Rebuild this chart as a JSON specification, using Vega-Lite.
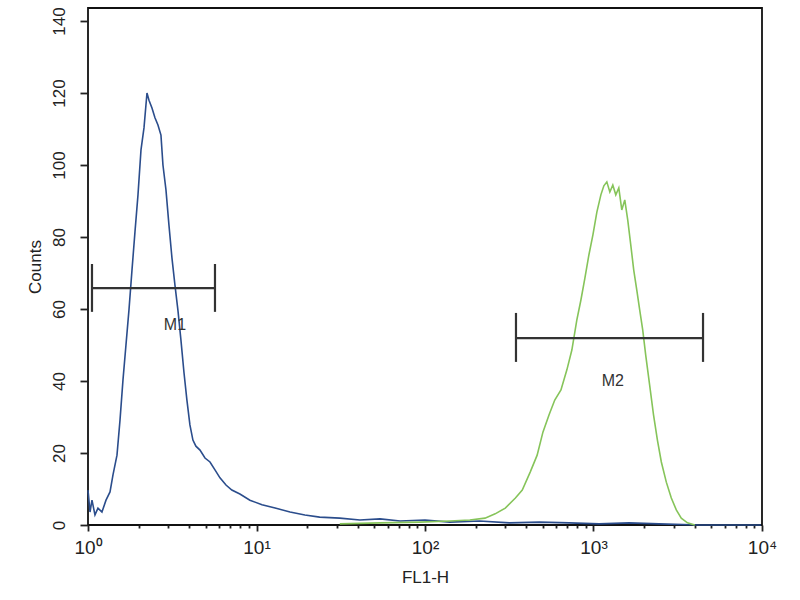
{
  "$schema": "https://vega.github.io/schema/vega-lite/v6.json",
  "width": 674,
  "height": 517,
  "autosize": {"type": "none"},
  "padding": {"left": 88, "top": 8, "right": 38, "bottom": 75},
  "background": "white",
  "config": {
    "view": {"stroke": "#111", "strokeWidth": 1.8},
    "font": "Liberation Sans"
  },
  "datasets": {
    "hist": [
      {"s": "blue", "x": 1.0, "c": 9.7},
      {"s": "blue", "x": 1.028, "c": 3.6},
      {"s": "blue", "x": 1.056, "c": 6.9},
      {"s": "blue", "x": 1.10, "c": 2.8},
      {"s": "blue", "x": 1.146, "c": 4.7},
      {"s": "blue", "x": 1.21, "c": 3.6},
      {"s": "blue", "x": 1.279, "c": 6.9},
      {"s": "blue", "x": 1.351, "c": 9.2},
      {"s": "blue", "x": 1.407, "c": 13.9},
      {"s": "blue", "x": 1.486, "c": 19.4},
      {"s": "blue", "x": 1.549, "c": 29.2},
      {"s": "blue", "x": 1.613, "c": 40.3},
      {"s": "blue", "x": 1.68, "c": 50},
      {"s": "blue", "x": 1.75, "c": 59.7},
      {"s": "blue", "x": 1.824, "c": 70.8},
      {"s": "blue", "x": 1.9, "c": 81.4},
      {"s": "blue", "x": 1.98, "c": 91.7},
      {"s": "blue", "x": 2.063, "c": 104.2},
      {"s": "blue", "x": 2.149, "c": 110.3},
      {"s": "blue", "x": 2.239, "c": 120},
      {"s": "blue", "x": 2.301, "c": 118},
      {"s": "blue", "x": 2.397, "c": 115.8},
      {"s": "blue", "x": 2.497, "c": 113.1},
      {"s": "blue", "x": 2.601, "c": 111.1},
      {"s": "blue", "x": 2.71, "c": 108.3},
      {"s": "blue", "x": 2.785, "c": 100},
      {"s": "blue", "x": 2.902, "c": 93.1},
      {"s": "blue", "x": 3.023, "c": 83.3},
      {"s": "blue", "x": 3.149, "c": 74.2},
      {"s": "blue", "x": 3.28, "c": 66.7},
      {"s": "blue", "x": 3.417, "c": 59.7},
      {"s": "blue", "x": 3.56, "c": 51.4},
      {"s": "blue", "x": 3.709, "c": 42.5},
      {"s": "blue", "x": 3.864, "c": 34.7},
      {"s": "blue", "x": 4.026, "c": 27.8},
      {"s": "blue", "x": 4.194, "c": 23.6},
      {"s": "blue", "x": 4.369, "c": 21.9},
      {"s": "blue", "x": 4.62, "c": 20.8},
      {"s": "blue", "x": 4.946, "c": 18.6},
      {"s": "blue", "x": 5.296, "c": 17.5},
      {"s": "blue", "x": 5.669, "c": 15.3},
      {"s": "blue", "x": 6.07, "c": 13.1},
      {"s": "blue", "x": 6.59, "c": 11.1},
      {"s": "blue", "x": 7.14, "c": 9.7},
      {"s": "blue", "x": 7.97, "c": 8.6},
      {"s": "blue", "x": 9.14, "c": 6.9},
      {"s": "blue", "x": 10.78, "c": 5.6},
      {"s": "blue", "x": 12.9, "c": 4.7},
      {"s": "blue", "x": 15.81, "c": 3.6},
      {"s": "blue", "x": 19.37, "c": 2.8},
      {"s": "blue", "x": 23.7, "c": 2.2},
      {"s": "blue", "x": 31.2, "c": 1.9},
      {"s": "blue", "x": 41.1, "c": 1.4},
      {"s": "blue", "x": 54.1, "c": 1.7},
      {"s": "blue", "x": 71.2, "c": 1.1},
      {"s": "blue", "x": 100, "c": 1.4},
      {"s": "blue", "x": 140.3, "c": 0.8},
      {"s": "blue", "x": 211, "c": 1.1},
      {"s": "blue", "x": 317, "c": 0.6},
      {"s": "blue", "x": 477, "c": 0.8},
      {"s": "blue", "x": 718, "c": 0.6},
      {"s": "blue", "x": 1080, "c": 0.3},
      {"s": "blue", "x": 1626, "c": 0.6},
      {"s": "blue", "x": 2447, "c": 0.3},
      {"s": "blue", "x": 4230, "c": 0},
      {"s": "blue", "x": 9850, "c": 0},
      {"s": "green", "x": 31.2, "c": 0.3},
      {"s": "green", "x": 54.1, "c": 0.6},
      {"s": "green", "x": 93.2, "c": 0.8},
      {"s": "green", "x": 140.3, "c": 1.1},
      {"s": "green", "x": 184.6, "c": 1.4},
      {"s": "green", "x": 227, "c": 1.9},
      {"s": "green", "x": 260.9, "c": 3.1},
      {"s": "green", "x": 299.6, "c": 4.7},
      {"s": "green", "x": 344, "c": 7.5},
      {"s": "green", "x": 377.8, "c": 9.7},
      {"s": "green", "x": 421, "c": 14.7},
      {"s": "green", "x": 463, "c": 19.4},
      {"s": "green", "x": 501, "c": 25.8},
      {"s": "green", "x": 545, "c": 30.6},
      {"s": "green", "x": 589, "c": 34.7},
      {"s": "green", "x": 641, "c": 37.5},
      {"s": "green", "x": 695, "c": 43.1},
      {"s": "green", "x": 744, "c": 48.6},
      {"s": "green", "x": 796, "c": 56.9},
      {"s": "green", "x": 842, "c": 62.5},
      {"s": "green", "x": 889, "c": 68.6},
      {"s": "green", "x": 939, "c": 75},
      {"s": "green", "x": 992, "c": 80.6},
      {"s": "green", "x": 1047, "c": 86.9},
      {"s": "green", "x": 1106, "c": 91.7},
      {"s": "green", "x": 1152, "c": 94.2},
      {"s": "green", "x": 1200, "c": 95.3},
      {"s": "green", "x": 1250, "c": 92.5},
      {"s": "green", "x": 1302, "c": 94.4},
      {"s": "green", "x": 1356, "c": 91.7},
      {"s": "green", "x": 1413, "c": 93.6},
      {"s": "green", "x": 1472, "c": 87.5},
      {"s": "green", "x": 1533, "c": 90.3},
      {"s": "green", "x": 1597, "c": 84.7},
      {"s": "green", "x": 1664, "c": 77.8},
      {"s": "green", "x": 1733, "c": 70.8},
      {"s": "green", "x": 1806, "c": 65.3},
      {"s": "green", "x": 1881, "c": 59.7},
      {"s": "green", "x": 1959, "c": 54.2},
      {"s": "green", "x": 2041, "c": 47.2},
      {"s": "green", "x": 2153, "c": 38.9},
      {"s": "green", "x": 2271, "c": 30.6},
      {"s": "green", "x": 2395, "c": 23.6},
      {"s": "green", "x": 2527, "c": 17.5},
      {"s": "green", "x": 2705, "c": 11.9},
      {"s": "green", "x": 2896, "c": 7.5},
      {"s": "green", "x": 3100, "c": 4.2},
      {"s": "green", "x": 3318, "c": 1.9},
      {"s": "green", "x": 3610, "c": 0.6},
      {"s": "green", "x": 3993, "c": 0}
    ],
    "bars": [
      {"m": "M1", "x1": 1.056, "x2": 5.67, "y": 65.8, "ylo": 59.2, "yhi": 72.5, "lx": 3.28, "ly": 55.5},
      {"m": "M2", "x1": 346.7, "x2": 4467, "y": 51.9, "ylo": 45.3, "yhi": 58.9, "lx": 1302, "ly": 40}
    ]
  },
  "layer": [
    {
      "data": {"name": "hist"},
      "mark": {"type": "line", "strokeWidth": 1.6, "interpolate": "linear"},
      "encoding": {
        "x": {
          "field": "x", "type": "quantitative",
          "scale": {"type": "log", "domain": [1, 10000], "nice": false},
          "axis": {
            "title": "FL1-H",
            "titleFont": "Liberation Sans",
            "titleFontSize": 17,
            "titleFontWeight": "normal",
            "titleColor": "#222",
            "titlePadding": 12,
            "values": [1,2,3,4,5,6,7,8,9,10,20,30,40,50,60,70,80,90,100,200,300,400,500,600,700,800,900,1000,2000,3000,4000,5000,6000,7000,8000,9000,10000],
            "labelExpr": "datum.value == 1 ? '10⁰' : datum.value == 10 ? '10¹' : datum.value == 100 ? '10²' : datum.value == 1000 ? '10³' : datum.value == 10000 ? '10⁴' : ''",
            "labelFontSize": 19,
            "labelColor": "#222",
            "labelPadding": 7,
            "labelFlush": false,
            "labelOverlap": false,
            "domain": false,
            "grid": false,
            "tickColor": "#222",
            "tickWidth": 1.8,
            "tickSize": {"condition": {"test": "indexof([1,10,100,1000,10000], datum.value) >= 0", "value": 6}, "value": 3}
          }
        },
        "y": {
          "field": "c", "type": "quantitative",
          "scale": {"domain": [0, 143.6], "nice": false, "zero": true},
          "axis": {
            "title": "Counts",
            "titleFontSize": 17,
            "titleFontWeight": "normal",
            "titleColor": "#222",
            "titlePadding": 6,
            "values": [0,5,10,15,20,25,30,35,40,45,50,55,60,65,70,75,80,85,90,95,100,105,110,115,120,125,130,135,140],
            "labelExpr": "datum.value % 20 == 0 ? datum.label : ''",
            "labelAngle": -90,
            "labelAlign": "center",
            "labelBaseline": "bottom",
            "labelFontSize": 17,
            "labelColor": "#222",
            "labelPadding": 12,
            "labelOverlap": false,
            "labelFlush": false,
            "domain": false,
            "grid": false,
            "tickColor": "#222",
            "tickWidth": 1.8,
            "tickSize": {"condition": {"test": "datum.value % 20 == 0", "value": 8}, "value": 4}
          }
        },
        "color": {
          "field": "s", "type": "nominal",
          "scale": {"domain": ["blue", "green"], "range": ["#2b4d8c", "#86c45a"]},
          "legend": null
        },
        "detail": {"field": "s"}
      }
    },
    {
      "data": {"name": "bars"},
      "mark": {"type": "rule", "color": "#333", "strokeWidth": 2.2},
      "encoding": {
        "x": {"field": "x1", "type": "quantitative"},
        "x2": {"field": "x2"},
        "y": {"field": "y", "type": "quantitative"}
      }
    },
    {
      "data": {"name": "bars"},
      "mark": {"type": "rule", "color": "#333", "strokeWidth": 2.2},
      "encoding": {
        "x": {"field": "x1", "type": "quantitative"},
        "y": {"field": "ylo", "type": "quantitative"},
        "y2": {"field": "yhi"}
      }
    },
    {
      "data": {"name": "bars"},
      "mark": {"type": "rule", "color": "#333", "strokeWidth": 2.2},
      "encoding": {
        "x": {"field": "x2", "type": "quantitative"},
        "y": {"field": "ylo", "type": "quantitative"},
        "y2": {"field": "yhi"}
      }
    },
    {
      "data": {"name": "bars"},
      "mark": {"type": "text", "fontSize": 16, "color": "#333", "align": "center", "baseline": "middle"},
      "encoding": {
        "x": {"field": "lx", "type": "quantitative"},
        "y": {"field": "ly", "type": "quantitative"},
        "text": {"field": "m"}
      }
    }
  ]
}
